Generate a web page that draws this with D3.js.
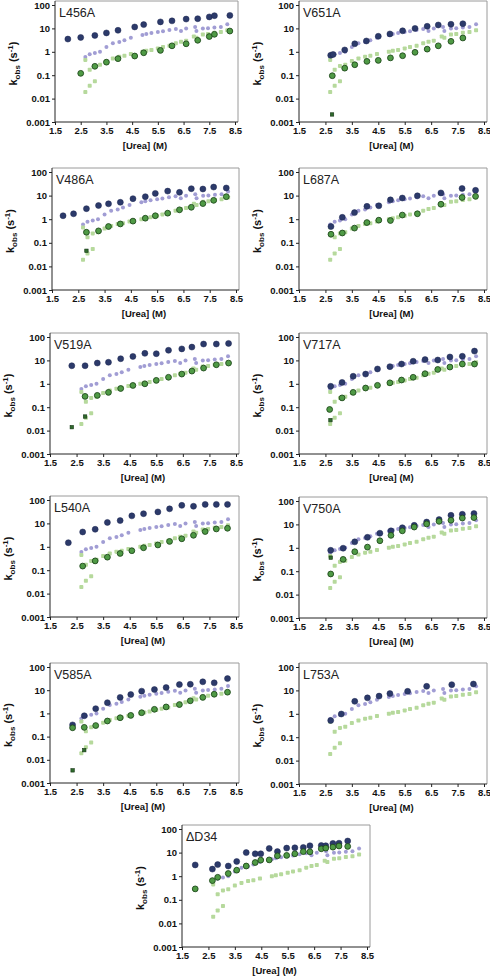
<!DOCTYPE html>
<html><head><meta charset="utf-8">
<script src="https://cdn.jsdelivr.net/npm/d3@7"></script>
<style>
html,body{margin:0;padding:0;background:#fff;}
svg{display:block;}
</style></head>
<body>
<script>
// ---- Data ----
const xTickValues = [1.5, 2.5, 3.5, 4.5, 5.5, 6.5, 7.5, 8.5];
const xTickLabels = ["1.5", "2.5", "3.5", "4.5", "5.5", "6.5", "7.5", "8.5"];
const yTickValues = [0.001, 0.01, 0.1, 1, 10, 100];
const yTickLabels = ["0.001", "0.01", "0.1", "1", "10", "100"];

// wild-type reference (shown in every panel)
const wt_ureaU = [2.68, 2.85, 3.05, 3.25, 3.5, 3.75, 4.0, 4.2, 4.45, 4.9, 5.05, 5.25, 5.5, 5.7, 5.95, 6.2, 6.4, 6.6, 6.95, 7.0, 7.25, 7.45, 7.7, 7.95, 8.2];
const wt_kU    = [0.6, 0.78, 0.88, 1.0, 1.6, 2.3, 2.6, 3.1, 4.0, 5.2, 5.7, 6.3, 7.0, 7.5, 8.6, 9.5, 7.8, 9.8, 11.5, 7.8, 9.8, 10.2, 10.8, 11.5, 15];
const wt_ureaF = [2.68, 2.68, 2.85, 2.85, 3.05, 3.05, 3.25, 3.5, 3.75, 4.0, 4.2, 4.45, 4.9, 5.05, 5.25, 5.5, 5.7, 5.95, 6.2, 6.4, 6.6, 6.9, 7.0, 7.25, 7.45, 7.7, 7.95, 8.2];
const wt_kF    = [0.45, 0.019, 0.17, 0.035, 0.25, 0.055, 0.28, 0.4, 0.52, 0.62, 0.67, 0.8, 1.0, 1.1, 1.2, 1.4, 1.6, 1.8, 2.3, 2.7, 3.0, 4.5, 4.0, 5.5, 5.8, 6.5, 7.0, 8.3];

// mutants: U = navy circles, F = green circles, S = small dark squares
const L456A_ureaU = [2.0, 2.5, 3.05, 3.5, 3.95, 4.6, 4.95, 5.6, 6.05, 6.6, 7.05, 7.5, 7.7, 8.3];
const L456A_kU    = [3.5, 4.1, 5.0, 6.4, 8.3, 11.5, 14.5, 19, 21, 25, 26, 31, 35, 36];
const L456A_ureaF = [2.5, 3.05, 3.5, 3.95, 4.6, 4.95, 5.6, 6.05, 6.6, 7.05, 7.5, 7.7, 8.3];
const L456A_kF    = [0.12, 0.24, 0.36, 0.51, 0.66, 0.91, 1.15, 1.8, 2.2, 3.1, 4.5, 5.6, 7.7];
const L456A_ureaS = [];
const L456A_kS    = [];

const V651A_ureaU = [2.7, 2.79, 3.23, 3.61, 4.05, 4.5, 4.94, 5.42, 5.89, 6.35, 6.77, 7.25, 7.7];
const V651A_kU    = [0.71, 0.77, 1.2, 2.2, 2.9, 4.6, 5.8, 7.9, 10, 12.3, 14, 15, 15.8];
const V651A_ureaF = [2.76, 3.23, 3.61, 4.07, 4.5, 4.96, 5.42, 5.89, 6.35, 6.77, 7.25, 7.7];
const V651A_kF    = [0.095, 0.2, 0.28, 0.39, 0.43, 0.55, 0.68, 0.95, 1.3, 1.8, 2.8, 3.9];
const V651A_ureaS = [2.75];
const V651A_kS    = [0.0021];

const V486A_ureaU = [1.92, 2.32, 2.81, 3.27, 3.65, 4.1, 4.58, 5.05, 5.43, 5.9, 6.35, 6.8, 7.24, 7.65, 8.13];
const V486A_kU    = [1.4, 1.7, 2.8, 3.8, 4.5, 5.2, 7.4, 9.0, 12.4, 15.5, 13.7, 19.6, 19, 23, 21];
const V486A_ureaF = [2.81, 3.27, 3.65, 4.1, 4.58, 5.05, 5.43, 5.9, 6.35, 6.8, 7.24, 7.65, 8.13];
const V486A_kF    = [0.28, 0.32, 0.49, 0.63, 0.83, 1.1, 1.4, 1.8, 2.5, 3.2, 4.6, 6.3, 9.0];
const V486A_ureaS = [2.81];
const V486A_kS    = [0.046];

const L687A_ureaU = [2.71, 3.14, 3.6, 4.07, 4.52, 4.96, 5.41, 5.98, 6.87, 7.67, 8.18];
const L687A_kU    = [0.49, 1.2, 1.9, 3.5, 3.7, 6.6, 7.9, 9.8, 13, 20, 16.7];
const L687A_ureaF = [2.71, 3.14, 3.6, 4.07, 4.52, 4.96, 5.41, 5.98, 6.87, 7.67, 8.18];
const L687A_kF    = [0.23, 0.26, 0.42, 0.72, 0.91, 0.88, 1.5, 1.7, 4.3, 8.3, 9.3];
const L687A_ureaS = [];
const L687A_kS    = [];

const V519A_ureaU = [2.32, 2.82, 3.28, 3.7, 4.16, 4.62, 5.07, 5.5, 5.96, 6.46, 6.84, 7.28, 7.76, 8.22];
const V519A_kU    = [5.9, 5.9, 7.7, 8.3, 11.8, 14.8, 20, 19.3, 27, 31, 37, 50, 50, 53];
const V519A_ureaF = [2.82, 3.28, 3.7, 4.16, 4.62, 5.07, 5.5, 5.96, 6.46, 6.84, 7.28, 7.76, 8.22];
const V519A_kF    = [0.29, 0.32, 0.43, 0.63, 0.85, 1.0, 1.4, 1.9, 2.6, 3.5, 4.7, 6.5, 7.7];
const V519A_ureaS = [2.32, 2.82];
const V519A_kS    = [0.014, 0.04];

const V717A_ureaU = [2.7, 3.13, 3.55, 4.02, 4.47, 4.94, 5.38, 5.82, 6.27, 6.75, 7.21, 7.68, 8.14];
const V717A_kU    = [0.78, 1.15, 2.1, 2.6, 4.3, 5.4, 7.0, 9.2, 10.8, 10.4, 14, 15, 25];
const V717A_ureaF = [2.66, 3.13, 3.55, 4.02, 4.47, 4.94, 5.38, 5.82, 6.27, 6.75, 7.21, 7.68, 8.14];
const V717A_kF    = [0.08, 0.25, 0.43, 0.66, 0.86, 1.1, 1.45, 1.9, 2.7, 4.1, 5.2, 7.0, 7.0];
const V717A_ureaS = [2.69];
const V717A_kS    = [0.028];

const L540A_ureaU = [2.19, 2.73, 3.2, 3.66, 4.14, 4.58, 5.02, 5.56, 6.0, 6.46, 6.9, 7.34, 7.76, 8.18];
const L540A_kU    = [1.5, 4.3, 5.6, 11, 13.2, 21, 26, 31, 42, 59, 54, 65, 65, 65];
const L540A_ureaF = [2.73, 3.2, 3.66, 4.14, 4.58, 5.02, 5.56, 6.0, 6.46, 6.9, 7.34, 7.76, 8.18];
const L540A_kF    = [0.15, 0.25, 0.36, 0.52, 0.68, 0.91, 1.2, 1.7, 2.2, 3.1, 4.5, 5.8, 6.2];
const L540A_ureaS = [];
const L540A_kS    = [];

const V750A_ureaU = [2.7, 3.17, 3.61, 4.09, 4.56, 4.98, 5.41, 5.86, 6.33, 6.8, 7.25, 7.68, 8.12];
const V750A_kU    = [0.78, 0.96, 1.8, 2.8, 4.2, 5.3, 7.2, 9.1, 12.6, 16, 24.5, 27, 29];
const V750A_ureaF = [2.7, 3.17, 3.61, 4.09, 4.56, 4.98, 5.41, 5.86, 6.33, 6.8, 7.25, 7.68, 8.12];
const V750A_kF    = [0.076, 0.32, 0.68, 1.07, 2.0, 3.4, 5.3, 7.7, 10.5, 13.5, 15, 18.7, 19.5];
const V750A_ureaS = [2.7];
const V750A_kS    = [0.38];

const V585A_ureaU = [2.35, 2.79, 3.22, 3.66, 4.14, 4.54, 4.95, 5.43, 5.87, 6.37, 6.78, 7.25, 7.68, 8.18];
const V585A_kU    = [0.32, 0.79, 1.6, 2.9, 4.9, 6.5, 9.1, 10.7, 13, 17.5, 18, 23, 20.7, 31.6];
const V585A_ureaF = [2.35, 2.79, 3.22, 3.66, 4.14, 4.54, 4.95, 5.43, 5.87, 6.37, 6.78, 7.25, 7.68, 8.18];
const V585A_kF    = [0.24, 0.25, 0.3, 0.47, 0.65, 0.82, 1.07, 1.5, 1.9, 2.4, 3.5, 4.9, 6.7, 8.2];
const V585A_ureaS = [2.35, 2.79];
const V585A_kS    = [0.0035, 0.026];

const L753A_ureaU = [2.7, 3.1, 3.61, 4.09, 4.53, 4.94, 5.61, 6.33, 7.28, 8.1];
const L753A_kU    = [0.52, 0.98, 3.4, 4.8, 5.7, 7.3, 9.1, 14.9, 17.6, 18.7];
const L753A_ureaF = [];
const L753A_kF    = [];
const L753A_ureaS = [];
const L753A_kS    = [];

const dD34_ureaU = [2.0, 2.65, 2.85, 3.25, 3.57, 3.93, 4.27, 4.48, 4.8, 5.11, 5.46, 5.77, 6.09, 6.34, 6.77, 6.94, 7.21, 7.44, 7.77];
const dD34_kU    = [3.0, 2.0, 3.1, 2.7, 4.2, 10, 8.9, 8.9, 15, 11, 15.5, 16, 16.5, 19.5, 20, 19.5, 24.5, 25, 31];
const dD34_ureaF = [2.0, 2.65, 2.85, 3.25, 3.57, 3.93, 4.27, 4.48, 4.8, 5.11, 5.46, 5.77, 6.09, 6.34, 6.77, 6.94, 7.21, 7.44, 7.77];
const dD34_kF    = [0.29, 0.65, 0.9, 1.3, 1.8, 2.7, 3.8, 4.8, 4.9, 7.3, 7.6, 8.9, 11, 10.8, 14.5, 15.5, 17, 19, 18.3];
const dD34_ureaS = [];
const dD34_kS    = [];

const panelNames = ["L456A", "V651A", "V486A", "L687A", "V519A", "V717A", "L540A", "V750A", "V585A", "L753A", "\u0394D34"];
const panelData = [
  [L456A_ureaU, L456A_kU, L456A_ureaF, L456A_kF, L456A_ureaS, L456A_kS],
  [V651A_ureaU, V651A_kU, V651A_ureaF, V651A_kF, V651A_ureaS, V651A_kS],
  [V486A_ureaU, V486A_kU, V486A_ureaF, V486A_kF, V486A_ureaS, V486A_kS],
  [L687A_ureaU, L687A_kU, L687A_ureaF, L687A_kF, L687A_ureaS, L687A_kS],
  [V519A_ureaU, V519A_kU, V519A_ureaF, V519A_kF, V519A_ureaS, V519A_kS],
  [V717A_ureaU, V717A_kU, V717A_ureaF, V717A_kF, V717A_ureaS, V717A_kS],
  [L540A_ureaU, L540A_kU, L540A_ureaF, L540A_kF, L540A_ureaS, L540A_kS],
  [V750A_ureaU, V750A_kU, V750A_ureaF, V750A_kF, V750A_ureaS, V750A_kS],
  [V585A_ureaU, V585A_kU, V585A_ureaF, V585A_kF, V585A_ureaS, V585A_kS],
  [L753A_ureaU, L753A_kU, L753A_ureaF, L753A_kF, L753A_ureaS, L753A_kS],
  [dD34_ureaU, dD34_kU, dD34_ureaF, dD34_kF, dD34_ureaS, dD34_kS]
];

// ---- Layout (pixel frames for each panel) ----
const frames = [
  {x0: 55, x1: 235, y0: 5, y1: 122},
  {x0: 299, x1: 484, y0: 5, y1: 122},
  {x0: 52, x1: 236, y0: 172, y1: 290},
  {x0: 299, x1: 484, y0: 172, y1: 290},
  {x0: 50, x1: 236, y0: 337, y1: 454},
  {x0: 299, x1: 484, y0: 337, y1: 454},
  {x0: 50, x1: 236, y0: 500, y1: 617},
  {x0: 299, x1: 484, y0: 501, y1: 618},
  {x0: 50, x1: 236, y0: 667, y1: 783},
  {x0: 299, x1: 484, y0: 667, y1: 784},
  {x0: 182, x1: 367, y0: 829, y1: 947}
];

const C = {
  navy: "#2c3a6a", navyStroke: "#1d2750",
  green: "#4f9a45", greenStroke: "#1f4a1c",
  wtU: "#a19dd4", wtF: "#b6d99c",
  sq: "#2f6a2c", sqStroke: "#123312",
  axis: "#222", frame: "#9a9a9a"
};
const FONT = "'Liberation Sans', Arial, Helvetica, sans-serif";

const svg = d3.select("body").append("svg").attr("width", 490).attr("height", 976)
  .style("font-family", FONT);

function zip(a, b) { return a.map((v, i) => [v, b[i]]); }

panelNames.forEach((name, i) => {
  const f = frames[i];
  const [uX, uK, fX, fK, sX, sK] = panelData[i];
  const x = d3.scaleLinear().domain([1.5, 8.5]).range([f.x0, f.x1]);
  const y = d3.scaleLog().domain([0.001, 100]).range([f.y1, f.y0]);
  const g = svg.append("g");

  // frame (top & right)
  g.append("path")
    .attr("d", `M${f.x0},${f.y0 - 4}H${f.x1 + 3}V${f.y1}`)
    .attr("fill", "none").attr("stroke", C.frame).attr("stroke-width", 1);

  // wild-type reference data
  g.append("g").selectAll("circle").data(zip(wt_ureaU, wt_kU)).join("circle")
    .attr("cx", d => x(d[0])).attr("cy", d => y(d[1])).attr("r", 2)
    .attr("fill", C.wtU);
  g.append("g").selectAll("rect").data(zip(wt_ureaF, wt_kF)).join("rect")
    .attr("x", d => x(d[0]) - 2).attr("y", d => y(d[1]) - 2)
    .attr("width", 4).attr("height", 4).attr("rx", 0.8)
    .attr("fill", C.wtF);

  // mutant data
  g.append("g").selectAll("circle").data(zip(uX, uK)).join("circle")
    .attr("cx", d => x(d[0])).attr("cy", d => y(d[1])).attr("r", 3.0)
    .attr("fill", C.navy).attr("stroke", C.navyStroke).attr("stroke-width", 0.5);
  g.append("g").selectAll("circle").data(zip(fX, fK)).join("circle")
    .attr("cx", d => x(d[0])).attr("cy", d => y(d[1])).attr("r", 2.9)
    .attr("fill", C.green).attr("stroke", C.greenStroke).attr("stroke-width", 0.9);
  g.append("g").selectAll("rect").data(zip(sX, sK)).join("rect")
    .attr("x", d => x(d[0]) - 1.7).attr("y", d => y(d[1]) - 1.7)
    .attr("width", 3.4).attr("height", 3.4)
    .attr("fill", C.sq).attr("stroke", C.sqStroke).attr("stroke-width", 0.6);

  // axes
  const ya = d3.axisLeft(y).tickValues(yTickValues)
    .tickFormat((d, j) => yTickLabels[j]).tickSize(3).tickPadding(2);
  const yg = g.append("g").attr("transform", `translate(${f.x0},0)`).call(ya);
  const xa = d3.axisBottom(x).tickValues(xTickValues)
    .tickFormat((d, j) => xTickLabels[j]).tickSize(3).tickPadding(2);
  const xg = g.append("g").attr("transform", `translate(0,${f.y1})`).call(xa);
  [yg, xg].forEach(a => {
    a.select(".domain").attr("stroke", C.axis).attr("stroke-width", 1);
    a.selectAll(".tick line").attr("stroke", C.axis);
    a.selectAll("text").attr("fill", "#111").attr("font-family", FONT)
      .attr("font-size", 9.5).attr("font-weight", "bold");
  });
  yg.select(".domain").attr("d", `M0,${f.y0 - 4}V${f.y1}`);
  xg.select(".domain").attr("d", `M${f.x0},0H${f.x1 + 3}`);

  // panel label
  g.append("text").attr("x", f.x0 + 4).attr("y", f.y0 + 11.5)
    .attr("font-size", 12.5).attr("fill", "#222").text(name);

  // x-axis title
  g.append("text").attr("x", (f.x0 + f.x1) / 2).attr("y", f.y1 + 27)
    .attr("text-anchor", "middle").attr("font-size", 9.5).attr("font-weight", "bold")
    .attr("fill", "#111").text("[Urea] (M)");

  // y-axis title
  const cy = (f.y0 + f.y1) / 2;
  const yt = g.append("text")
    .attr("transform", `translate(${f.x0 - 38},${cy}) rotate(-90)`)
    .attr("text-anchor", "middle").attr("font-size", 11).attr("font-weight", "bold")
    .attr("fill", "#111");
  yt.append("tspan").text("k");
  yt.append("tspan").attr("dy", 2.5).attr("font-size", 8).text("obs");
  yt.append("tspan").attr("dy", -2.5).text(" (s");
  yt.append("tspan").attr("dy", -4).attr("font-size", 8).text("-1");
  yt.append("tspan").attr("dy", 4).text(")");
});
</script>
</body></html>
